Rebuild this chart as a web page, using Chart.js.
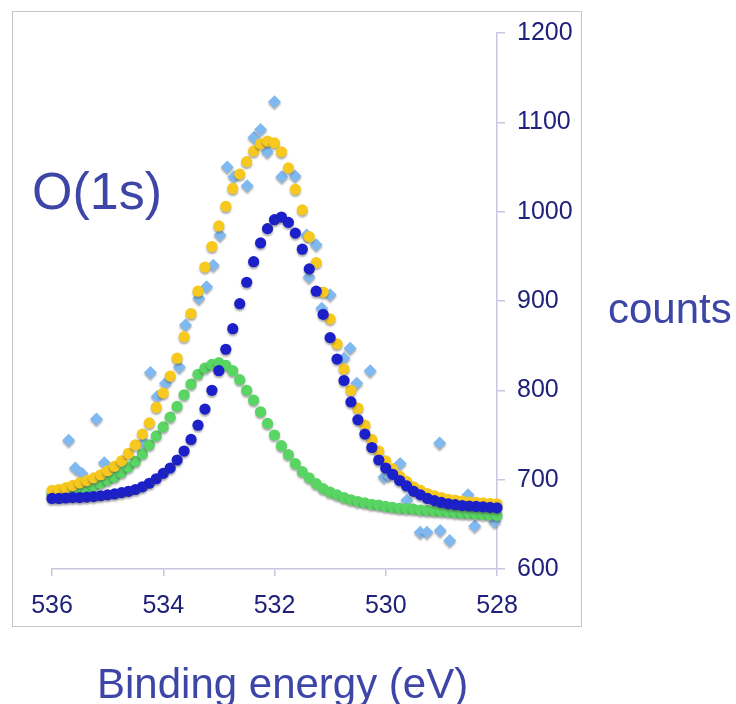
<!DOCTYPE html>
<html>
<head>
<meta charset="utf-8">
<script src="https://cdn.jsdelivr.net/npm/chart.js@4.4.1/dist/chart.umd.min.js"></script>
<style>
	body { margin: 0; background: #fff; }
	#wrap { position: relative; width: 736px; height: 704px; overflow: hidden; }
	#frame { position: absolute; left: 12px; top: 11px; width: 568px; height: 614px; border: 1px solid #c6c6c6; }
	canvas { position: absolute; left: 0; top: 0; }
	.lbl { position: absolute; font-family: "Liberation Sans", Arial, sans-serif; color: #3d45a7; line-height: 1; white-space: nowrap; }
</style>
</head>
<body>
<div id="wrap">
	<div id="frame"></div>
	<canvas id="xps" width="736" height="704"></canvas>
	<div class="lbl" style="left:32px; top:165px; font-size:52px;">O(1s)</div>
	<div class="lbl" style="left:608px; top:288px; font-size:42px;">counts</div>
	<div class="lbl" style="left:97px; top:663px; font-size:42px;">Binding energy (eV)</div>
</div>
<script>
const colYellow = "#f7c81e";
const colBlue = "#1b20c9";
const colGreen = "#58d563";
const colRaw = "#80b9ef";
const colAxis = "#c6c6e0";
const colTick = "#20217a";

// binding energy grid of the fitted curves (eV)
const energies = [
	536.000, 535.875, 535.750, 535.625, 535.500, 535.375, 535.250, 535.125,
	535.000, 534.875, 534.750, 534.625, 534.500, 534.375, 534.250, 534.125,
	534.000, 533.875, 533.750, 533.625, 533.500, 533.375, 533.250, 533.125,
	533.000, 532.875, 532.750, 532.625, 532.500, 532.375, 532.250, 532.125,
	532.000, 531.875, 531.750, 531.625, 531.500, 531.375, 531.250, 531.125,
	531.000, 530.875, 530.750, 530.625, 530.500, 530.375, 530.250, 530.125,
	530.000, 529.875, 529.750, 529.625, 529.500, 529.375, 529.250, 529.125,
	529.000, 528.875, 528.750, 528.625, 528.500, 528.375, 528.250, 528.125,
	528.000,
];

// fitted envelope (yellow)
const envelope = [
	688, 689, 691, 693.5, 696.5, 699, 702, 705.5,
	710, 715, 721, 729.5, 739, 751, 763.5, 781,
	797, 816, 836, 860, 886, 911, 938, 961,
	984, 1006, 1026, 1042, 1056, 1068, 1076, 1079,
	1077, 1067, 1049, 1025, 1002, 972, 943, 910,
	880, 852, 824, 800, 780, 761, 745, 732,
	721, 712, 704, 698, 692, 688, 684.5, 682,
	680, 678, 677, 676, 675, 674.5, 674, 673.5,
	673,
];

// component at ~531.9 eV (dark blue)
const peakLow = [
	679, 679, 679.5, 680, 680, 680.5, 681, 682,
	683, 684, 685.5, 687, 689, 692, 696, 701,
	707, 713, 722, 732, 745, 761, 779, 800,
	822, 846, 869, 897, 921, 944, 965, 981,
	991, 994, 988, 976, 958, 936, 911, 885,
	859, 835, 811, 787, 767, 751, 736, 722,
	713, 706, 699, 693, 687, 683, 679, 676.5,
	674.5, 673, 672, 671, 670.5, 670, 669.5, 669,
	668.5,
];

// component at ~533 eV (green)
const peakHigh = [
	683, 684, 685, 686.5, 688, 690, 693, 696,
	699.5, 703, 708, 714, 720.5, 729, 739, 749,
	759, 770, 782, 795, 807, 818, 825, 829,
	831, 828, 822, 812, 800, 789, 776, 763,
	750, 738, 728, 718, 709, 702, 695.5, 690,
	686, 683, 680, 677.5, 675.5, 674, 672.5, 671.5,
	670, 669, 668, 667.5, 667, 666, 665.5, 665,
	664.5, 664, 663, 662.5, 662, 661.5, 661, 660.5,
	660,
];

// measured counts (light blue)
const rawEnergy = [
	535.70, 535.58, 535.46, 535.20, 535.06, 534.35, 534.23, 534.11,
	533.96, 533.71, 533.60, 533.36, 533.22, 533.10, 532.98, 532.85,
	532.73, 532.49, 532.37, 532.25, 532.13, 532.00, 531.87, 531.63,
	531.42, 531.38, 531.25, 531.15, 531.00, 530.75, 530.64, 530.52,
	530.28, 530.03, 529.95, 529.74, 529.62, 529.38, 529.26, 529.03,
	529.02, 528.85, 528.52, 528.40, 528.04,
];
const rawCounts = [
	744, 713, 707, 768, 719, 742, 820, 793,
	808, 826, 873, 903, 916, 940, 974, 1050,
	1039, 1029, 1083, 1092, 1067, 1123, 1039, 1040,
	974, 927, 963, 892, 907, 836, 847, 808,
	822, 703, 705, 718, 677, 641, 641, 741,
	643, 632, 683, 648, 653,
];

const xTicks = [536, 534, 532, 530, 528];
const yTicks = [600, 700, 800, 900, 1000, 1100, 1200];

const pts = (xs, ys) => xs.map((x, i) => ({ x: x, y: ys[i] }));

// soft grey shadow under every marker
const shadowPlugin = {
	id: "markerShadow",
	beforeDatasetsDraw(chart) {
		const ctx = chart.ctx;
		ctx.save();
		ctx.shadowColor = "rgba(70,70,70,0.45)";
		ctx.shadowOffsetY = 2;
		ctx.shadowOffsetX = 0;
		ctx.shadowBlur = 2;
	},
	afterDatasetsDraw(chart) {
		chart.ctx.restore();
	},
};

const tickFont = { family: "'Liberation Sans', Arial, sans-serif", size: 25 };

new Chart(document.getElementById("xps"), {
	type: "scatter",
	data: {
		datasets: [
			{
				label: "peak 531.9",
				data: pts(energies, peakLow),
				backgroundColor: colBlue,
				pointRadius: 5.6,
				borderWidth: 0,
				clip: false,
			},
			{
				label: "envelope",
				data: pts(energies, envelope),
				backgroundColor: colYellow,
				pointRadius: 5.6,
				borderWidth: 0,
				clip: false,
			},
			{
				label: "peak 533",
				data: pts(energies, peakHigh),
				backgroundColor: colGreen,
				pointRadius: 5.6,
				borderWidth: 0,
				clip: false,
			},
			{
				label: "measured",
				data: pts(rawEnergy, rawCounts),
				backgroundColor: colRaw,
				pointStyle: "rectRot",
				pointRadius: 6.5,
				borderWidth: 0,
				clip: false,
			},
		],
	},
	options: {
		responsive: false,
		devicePixelRatio: 1,
		animation: false,
		layout: {
			padding: { left: 52, right: 149, top: 33, bottom: 75 },
		},
		plugins: {
			legend: { display: false },
			tooltip: { enabled: false },
		},
		scales: {
			x: {
				type: "linear",
				reverse: true,
				min: 528,
				max: 536,
				afterFit: (s) => { s.height = 60; },
				afterBuildTicks: (s) => { s.ticks = xTicks.map((v) => ({ value: v })); },
				border: { display: true, color: colAxis, width: 1.5 },
				grid: { drawOnChartArea: false, color: colAxis, tickLength: 7, lineWidth: 1.5 },
				ticks: {
					color: colTick,
					padding: 15,
					maxRotation: 0,
					font: tickFont,
					callback: (v) => String(v),
				},
			},
			y: {
				position: "right",
				min: 600,
				max: 1200,
				afterFit: (s) => { s.width = 90; },
				afterBuildTicks: (s) => { s.ticks = yTicks.map((v) => ({ value: v })); },
				border: { display: true, color: colAxis, width: 1.5 },
				grid: { drawOnChartArea: false, color: colAxis, tickLength: 8, lineWidth: 1.5 },
				ticks: {
					color: colTick,
					padding: 12,
					font: tickFont,
					callback: (v) => String(v),
				},
			},
		},
	},
	plugins: [shadowPlugin],
});
</script>
</body>
</html>
